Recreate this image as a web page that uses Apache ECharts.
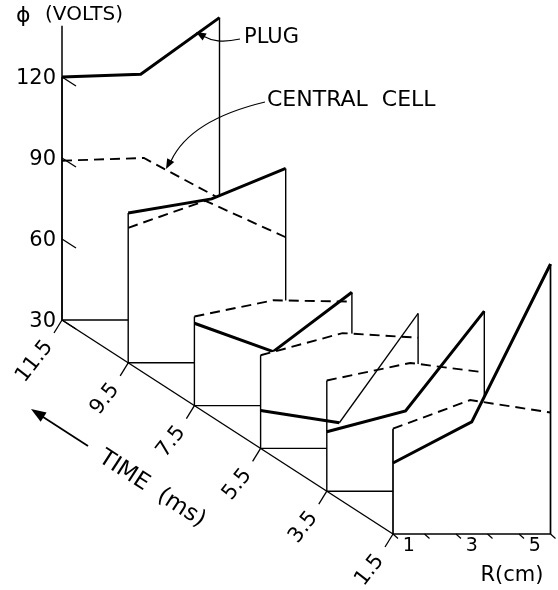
<!DOCTYPE html>
<html><head><meta charset="utf-8">
<script src="https://cdn.jsdelivr.net/npm/echarts@6/dist/echarts.min.js"></script>
<style>html,body{margin:0;padding:0;background:#fff}#c{width:558px;height:590px}</style>
</head><body><div id="c"></div>
<script>
// ---- data ----
const times = [11.5, 9.5, 7.5, 5.5, 3.5, 1.5];
const timeLabels = ['11.5', '9.5', '7.5', '5.5', '3.5', '1.5'];
const plugKneeR = [2.5, 2.65, 2.5, 2.5, 2.5, 2.5];
const plugV = [
  [120, 121, 142],
  [85.5, 90.7, 102],
  [60.5, 50, 72],
  [44, 39.5, 80],
  [52, 59.7, 96.7],
  [56.3, 71.5, 130]
];
const cellKneeR = [2.6, 2.45, 2.5, 2.6, 2.65, 2.45];
const cellV = [
  [89, 90, 75],
  [80, 90, 76.5],
  [63, 69, 68.5],
  [64.5, 72.7, 71],
  [71, 77.5, 74],
  [69, 79.6, 75]
];
const rStart = 0;
const rEnd = 5;
const phiBase = 30;
const phiTicks = [30, 60, 90, 120];
const phiAxisTop = 139;
const rTicks = [0, 1, 2, 3, 4, 5];
const rLabels = [1, 3, 5];

// ---- projection (oblique view): time depth shifts R and phi ----
const T0 = times[0];
const SHIFT_R = 1.0508;   // R units per ms of depth
const SHIFT_V = 7.926;    // phi units per ms of depth
const SEE_THROUGH_TIME = 5.5; // plug curve drawn over the panel in front
const FONT = 'DejaVu Sans';

function P(api, t, r, v) {
  return api.coord([r + (T0 - t) * SHIFT_R, v - (T0 - t) * SHIFT_V]);
}
function plugPts(i) { return [[rStart, plugV[i][0]], [plugKneeR[i], plugV[i][1]], [rEnd, plugV[i][2]]]; }
function cellPts(i) { return [[rStart, cellV[i][0]], [cellKneeR[i], cellV[i][1]], [rEnd, cellV[i][2]]]; }
function interp(pts, r) {
  for (let k = 0; k < pts.length - 1; k++) {
    const [r0, v0] = pts[k], [r1, v1] = pts[k + 1];
    if (r >= r0 && r <= r1) return v0 + (v1 - v0) * (r - r0) / (r1 - r0);
  }
  return pts[pts.length - 1][1];
}
function envelope(a, b) {
  const rs = Array.from(new Set([...a.map(p => p[0]), ...b.map(p => p[0])])).sort((x, y) => x - y);
  const all = [];
  for (let k = 0; k < rs.length; k++) {
    all.push(rs[k]);
    if (k < rs.length - 1) {
      const r0 = rs[k], r1 = rs[k + 1];
      const d0 = interp(a, r0) - interp(b, r0), d1 = interp(a, r1) - interp(b, r1);
      if (d0 * d1 < 0) all.push(r0 + (r1 - r0) * d0 / (d0 - d1));
    }
  }
  return all.map(r => [r, Math.max(interp(a, r), interp(b, r))]);
}
const lineStyle = (w, dash) => ({ stroke: '#000', lineWidth: w, fill: 'none', lineDash: dash || null, lineJoin: 'miter', lineCap: 'butt' });

const series = [];
times.forEach((t, i) => {
  series.push({
    type: 'custom', coordinateSystem: 'cartesian2d', z: 2 + i, silent: true,
    data: [[0, 0]],
    renderItem: (params, api) => {
      const plug = plugPts(i), cell = cellPts(i);
      const env = envelope(plug, cell);
      const poly = [P(api, t, rStart, phiBase)].concat(env.map(p => P(api, t, p[0], p[1])), [P(api, t, rEnd, phiBase)]);
      const children = [
        { type: 'polygon', shape: { points: poly }, style: { fill: '#fff', stroke: null } },
        { type: 'polyline', shape: { points: [P(api, t, rStart, env[0][1]), P(api, t, rStart, phiBase), P(api, t, rEnd, phiBase), P(api, t, rEnd, env[env.length - 1][1])] }, style: lineStyle(i === times.length - 1 ? 1.7 : 1.4) },
        { type: 'polyline', shape: { points: cell.map(p => P(api, t, p[0], p[1])) }, style: lineStyle(1.9, [10, 6]) }
      ];
      if (t !== SEE_THROUGH_TIME) {
        children.push({ type: 'polyline', shape: { points: plug.map(p => P(api, t, p[0], p[1])) }, style: lineStyle(3) });
      }
      return { type: 'group', children };
    }
  });
});

// plug curve that the drawing shows through the panel in front of it
series.push({
  type: 'custom', coordinateSystem: 'cartesian2d', z: 20, silent: true,
  data: [[0, 0]],
  renderItem: (params, api) => {
    const i = times.indexOf(SEE_THROUGH_TIME);
    const pts = plugPts(i).map(p => P(api, SEE_THROUGH_TIME, p[0], p[1]));
    return { type: 'group', children: [
      { type: 'polyline', shape: { points: [pts[0], pts[1]] }, style: lineStyle(3) },
      { type: 'polyline', shape: { points: [pts[1], pts[2]] }, style: lineStyle(1.3) }
    ] };
  }
});

// axes: time axis, phi axis, R axis with ticks and labels
series.push({
  type: 'custom', coordinateSystem: 'cartesian2d', z: 30, silent: true,
  data: [[0, 0]],
  renderItem: (params, api) => {
    const ch = [];
    const tFirst = times[0], tLast = times[times.length - 1];
    const s = P(api, tFirst, 0, phiBase), e = P(api, tLast, 0, phiBase);
    ch.push({ type: 'line', shape: { x1: s[0], y1: s[1], x2: e[0], y2: e[1] }, style: lineStyle(1.4) });
    times.forEach((t, i) => {
      const p = P(api, t, 0, phiBase);
      ch.push({ type: 'line', shape: { x1: p[0], y1: p[1], x2: p[0] - 8, y2: p[1] + 13 }, style: lineStyle(1.3) });
      ch.push({ type: 'text', x: p[0] - 13, y: p[1] + 23, rotation: 52 * Math.PI / 180,
        style: { text: timeLabels[i], font: '21px ' + FONT, fill: '#000', align: 'right', verticalAlign: 'middle' } });
    });
    // phi axis
    const a0 = P(api, tFirst, 0, phiBase), a1 = P(api, tFirst, 0, phiAxisTop);
    ch.push({ type: 'line', shape: { x1: a0[0], y1: a0[1], x2: a1[0], y2: a1[1] }, style: lineStyle(1.5) });
    phiTicks.forEach(v => {
      const p = P(api, tFirst, 0, v);
      ch.push({ type: 'line', shape: { x1: p[0], y1: p[1], x2: p[0] + 14, y2: p[1] + 9 }, style: lineStyle(1.3) });
      ch.push({ type: 'text', x: p[0] - 6, y: p[1] + 2,
        style: { text: String(v), font: '21px ' + FONT, fill: '#000', align: 'right', verticalAlign: 'middle' } });
    });
    // R axis
    rTicks.forEach(r => {
      const p = P(api, tLast, r, phiBase);
      ch.push({ type: 'line', shape: { x1: p[0], y1: p[1], x2: p[0] + 5, y2: p[1] + 4.5 }, style: lineStyle(1.2) });
    });
    rLabels.forEach(r => {
      const p = P(api, tLast, r - 0.5, phiBase);
      ch.push({ type: 'text', x: p[0], y: p[1] + 12,
        style: { text: String(r), font: '19px ' + FONT, fill: '#000', align: 'center', verticalAlign: 'middle' } });
    });
    return { type: 'group', children: ch };
  }
});

function arrowHead(tip, dir, len, hw) {
  const n = Math.hypot(dir[0], dir[1]);
  const ux = dir[0] / n, uy = dir[1] / n;
  const bx = tip[0] - ux * len, by = tip[1] - uy * len;
  return { type: 'polygon', z: 50, shape: { points: [tip, [bx - uy * hw, by + ux * hw], [bx + uy * hw, by - ux * hw]] }, style: { fill: '#000' } };
}

const graphic = [
  { type: 'text', x: 16, y: 16, z: 50, style: { text: '\u03D5', font: '22px ' + FONT, fill: '#000', align: 'left', verticalAlign: 'middle' } },
  { type: 'text', x: 45, y: 15, z: 50, style: { text: '(VOLTS)', font: '20px ' + FONT, fill: '#000', align: 'left', verticalAlign: 'middle' } },
  { type: 'text', x: 244, y: 38, z: 50, style: { text: 'PLUG', font: '21px ' + FONT, fill: '#000', align: 'left', verticalAlign: 'middle' } },
  { type: 'text', x: 267, y: 100, z: 50, style: { text: 'CENTRAL  CELL', font: '22px ' + FONT, fill: '#000', align: 'left', verticalAlign: 'middle' } },
  { type: 'bezierCurve', z: 50, shape: { x1: 240, y1: 39, cpx1: 222, cpy1: 43, cpx2: 212, cpy2: 41, x2: 203, y2: 36 }, style: lineStyle(1.2) },
  arrowHead([196, 32], [-0.85, -0.5], 10, 4),
  { type: 'bezierCurve', z: 50, shape: { x1: 265, y1: 102, cpx1: 190, cpy1: 120, x2: 171, y2: 161 }, style: lineStyle(1.2) },
  arrowHead([166, 169], [-0.47, 0.88], 10, 4),
  { type: 'line', z: 50, shape: { x1: 88, y1: 446, x2: 40, y2: 415 }, style: lineStyle(1.8) },
  arrowHead([31, 409], [-0.841, -0.541], 15, 5.5),
  { type: 'text', x: 152, y: 489, z: 50, rotation: -33 * Math.PI / 180, style: { text: 'TIME  (ms)', font: '23px ' + FONT, fill: '#000', align: 'center', verticalAlign: 'middle' } },
  { type: 'text', x: 512, y: 576, z: 50, style: { text: 'R(cm)', font: '21px ' + FONT, fill: '#000', align: 'center', verticalAlign: 'middle' } }
];

const chart = echarts.init(document.getElementById('c'), null, { renderer: 'canvas' });
chart.setOption({
  animation: false,
  backgroundColor: '#fff',
  grid: { left: 62, right: 7.75, top: 23, bottom: 54 },
  xAxis: { type: 'value', min: 0, max: 15.5, show: false },
  yAxis: { type: 'value', min: -50, max: 140, show: false },
  series: series,
  graphic: graphic
});
</script></body></html>
